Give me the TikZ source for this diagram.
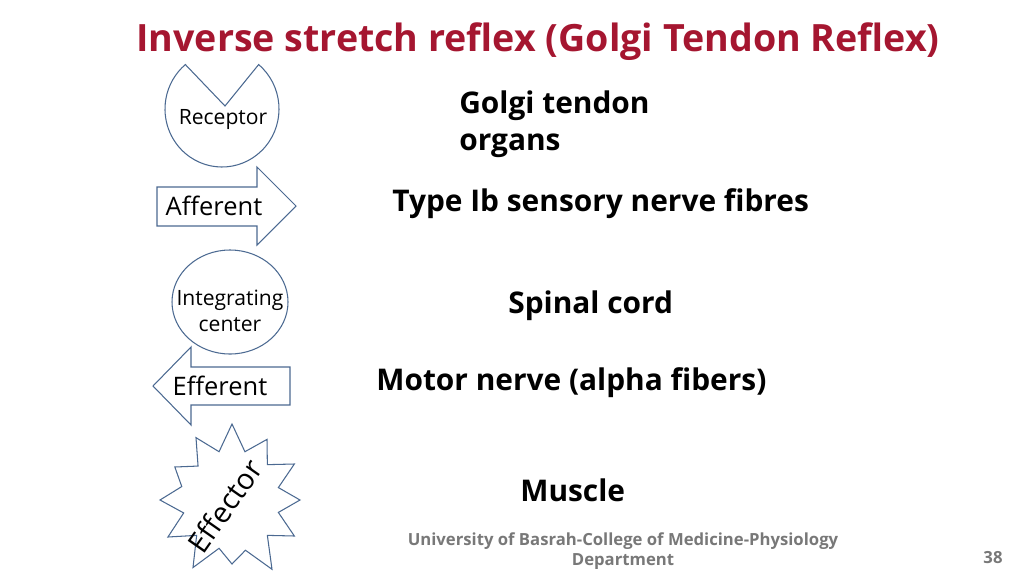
\documentclass[tikz,border=0pt]{standalone}
\usepackage{fontspec}
\setmainfont{Open Sans}
\definecolor{titlered}{RGB}{165,22,48}
\definecolor{shapeblue}{RGB}{75,105,145}
\definecolor{footgray}{RGB}{120,120,120}
\tikzset{
  outline/.style={draw=shapeblue,line width=0.6pt,line join=miter},
  term/.style={font=\fontsize{14.5}{17}\selectfont,align=center,inner sep=0pt},
  fact/.style={font=\bfseries\fontsize{17}{21}\selectfont,anchor=west,align=left,inner sep=0pt}
}
\begin{document}
\begin{tikzpicture}[x=0.02cm,y=-0.02cm]
\useasboundingbox (0,0) rectangle (1024,575);

% title
\node[font=\bfseries\fontsize{21.4}{25}\selectfont,text=titlered,inner sep=0pt] (title) at (538,42) {Inverse stretch reflex (Golgi Tendon Reflex)};

% receptor
\draw[outline] (225,106) -- ([shift={(-50:57 and 58)}]222,109) arc[start angle=-50,end angle=230,x radius=57,y radius=58] -- cycle;
\node[term,font=\fontsize{12}{15}\selectfont] (receptor) at (223,120) {Receptor};

% afferent
\draw[outline] (157,187) -- (257,187) -- (257,167) -- (296,206) -- (257,245) -- (257,226) -- (157,226) -- cycle;
\node[term] (afferent) at (214,206) {Afferent};

% integrating center
\draw[outline] (230,302) ellipse[x radius=58,y radius=52];
\node[term,font=\fontsize{12}{15}\selectfont] (integr) at (230,311) {Integrating\\center};

% efferent
\draw[outline] (290,367) -- (191,367) -- (191,347) -- (153,386) -- (191,425) -- (191,405) -- (290,405) -- cycle;
\node[term] (efferent) at (220,386) {Efferent};

% effector
\draw[outline] ([shift={(0:68)}]232,500)
  \foreach \a/\r in {15/48,30/72,45/50,60/80,75/52,90/64,105/50,120/78,135/50,150/74,
                     165/50,180/72,195/52,210/66,225/48,240/72,255/50,270/76,285/50,300/70,
                     315/50,330/72,345/48} {
    -- ([shift={(\a:\r)}]232,500) } -- cycle;
\node[term,font=\fontsize{16.5}{19}\selectfont,rotate=55] (effector) at (225,506) {Effector};

% facts
\node[fact] (golgi) at (459,124) {Golgi tendon\\organs};
\node[fact] (typeib) at (392,204) {Type Ib sensory nerve fibres};
\node[fact] (spinal) at (508,306) {Spinal cord};
\node[fact] (motor) at (376,383) {Motor nerve (alpha fibers)};
\node[fact] (muscle) at (520,490) {Muscle};

% footer
\node[font=\bfseries\fontsize{9.5}{11.5}\selectfont,text=footgray,align=center,inner sep=0pt] (footer) at (623,551) {University of Basrah-College of Medicine-Physiology\\Department};
\node[font=\bfseries\fontsize{9.5}{11.5}\selectfont,text=footgray,inner sep=0pt] (page) at (993,558) {38};
\end{tikzpicture}
\end{document}
